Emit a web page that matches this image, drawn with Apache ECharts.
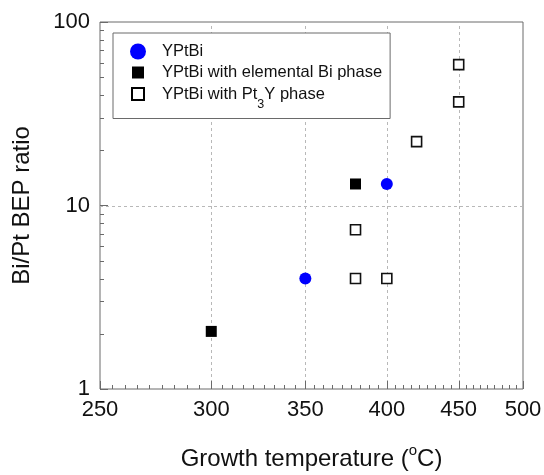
<!DOCTYPE html>
<html>
<head>
<meta charset="utf-8">
<title>Bi/Pt BEP ratio vs growth temperature</title>
<script src="https://cdn.jsdelivr.net/npm/echarts@6/dist/echarts.min.js"></script>
<style>
  html, body { margin: 0; padding: 0; background: #fff; }
  #chart { width: 544px; height: 475px; }
</style>
</head>
<body>
<div id="chart"></div>
<script>
// Growth temperature (°C) and Bi/Pt beam-equivalent-pressure ratio per phase
const seriesNames = ['YPtBi', 'YPtBi with elemental Bi phase', 'YPtBi with Pt3Y phase'];
const legendLabels = ['YPtBi', 'YPtBi with elemental Bi phase', 'YPtBi with Pt{sub|3}Y phase'];

const pureTemp = [350, 400];
const pureRatio = [4.0, 13.1];

const biPhaseTemp = [300, 380];
const biPhaseRatio = [2.06, 13.1];

const pt3yTemp = [380, 380, 400, 420, 450, 450];
const pt3yRatio = [7.38, 4.0, 4.0, 22.3, 36.7, 58.6];

// Axis ranges and ticks
const X_MIN = 250, X_MAX = 500;
const Y_MIN = 1, Y_MAX = 100;
const xTickValues = [250, 300, 350, 400, 450, 500];
const xTickLabels = ['250', '300', '350', '400', '450', '500'];
const xGridValues = [300, 350, 400, 450];
const yGridValues = [10];
const X_MINOR_PER_MAJOR = 8;
const yMinorTicks = [2, 3, 4, 5, 6, 7, 8, 9, 20, 30, 40, 50, 60, 70, 80, 90];

// x minor ticks sit evenly (on the log axis) between each pair of major ticks
const xMinorTicks = [];
for (let i = 0; i < xTickValues.length - 1; i++) {
  const a = xTickValues[i], b = xTickValues[i + 1];
  for (let k = 1; k <= X_MINOR_PER_MAJOR; k++) {
    xMinorTicks.push(a * Math.pow(b / a, k / (X_MINOR_PER_MAJOR + 1)));
  }
}

const zip = (xs, ys) => xs.map((x, i) => [x, ys[i]]);

const FONT = "'Liberation Sans', Arial, Helvetica, sans-serif";
const AXIS_COLOR = '#6a6a6a';
const GRID_COLOR = '#b8b8b8';
const TEXT_COLOR = '#111';

const crisp = v => Math.round(v) + 0.5;

function renderXMajor(params, api) {
  const p = api.coord([api.value(0), api.value(1)]);
  const x = crisp(p[0]);
  return {
    type: 'group',
    children: [
      { type: 'line', shape: { x1: x, y1: p[1], x2: x, y2: p[1] - 8 },
        style: { stroke: AXIS_COLOR, lineWidth: 1 } },
      { type: 'text', x: p[0], y: p[1] + 10,
        style: { text: xTickLabels[params.dataIndex], fontSize: 22, fontFamily: FONT,
                 fill: TEXT_COLOR, align: 'center', verticalAlign: 'top' } }
    ]
  };
}

function renderXMinor(params, api) {
  const p = api.coord([api.value(0), api.value(1)]);
  const x = crisp(p[0]);
  return { type: 'line', shape: { x1: x, y1: p[1], x2: x, y2: p[1] - 4 },
           style: { stroke: AXIS_COLOR, lineWidth: 1 } };
}

function renderYMinor(params, api) {
  const p = api.coord([api.value(0), api.value(1)]);
  const y = crisp(p[1]);
  return { type: 'line', shape: { x1: p[0], y1: y, x2: p[0] + 4, y2: y },
           style: { stroke: AXIS_COLOR, lineWidth: 1 } };
}

function renderXGrid(params, api) {
  const a = api.coord([api.value(0), Y_MIN]);
  const b = api.coord([api.value(0), Y_MAX]);
  const x = crisp(a[0]);
  return { type: 'line', shape: { x1: x, y1: a[1], x2: x, y2: b[1] },
           style: { stroke: GRID_COLOR, lineWidth: 1, lineDash: [3, 3] } };
}

function renderYGrid(params, api) {
  const a = api.coord([X_MIN, api.value(1)]);
  const b = api.coord([X_MAX, api.value(1)]);
  const y = crisp(a[1]);
  return { type: 'line', shape: { x1: a[0], y1: y, x2: b[0], y2: y },
           style: { stroke: GRID_COLOR, lineWidth: 1, lineDash: [3, 3] } };
}

const chart = echarts.init(document.getElementById('chart'), null, { renderer: 'canvas' });

chart.setOption({
  animation: false,
  backgroundColor: '#fff',
  textStyle: { fontFamily: FONT },
  grid: {
    left: 100, right: 21, top: 22, bottom: 86,
    show: true, borderColor: AXIS_COLOR, borderWidth: 1,
    backgroundColor: 'transparent',
    containLabel: false, outerBoundsMode: 'none'
  },
  legend: {
    orient: 'vertical',
    left: 113, top: 33,
    padding: [10, 8, 7, 16],
    itemWidth: 16, itemHeight: 16, itemGap: 4,
    borderColor: AXIS_COLOR, borderWidth: 1,
    backgroundColor: '#fff',
    selectedMode: false,
    textStyle: {
      fontSize: 16.5, fontFamily: FONT, color: TEXT_COLOR, lineHeight: 17,
      padding: [0, 0, 0, 11],
      rich: { sub: { fontSize: 12.5, fontFamily: FONT, color: TEXT_COLOR, lineHeight: 2,
                     verticalAlign: 'top', padding: [13, 0, 0, 0] } }
    },
    formatter: name => legendLabels[seriesNames.indexOf(name)],
    data: [
      { name: seriesNames[0], icon: 'circle', itemStyle: { color: '#0000ff', borderWidth: 0 } },
      { name: seriesNames[1], icon: 'path://M0,0M2,2H14V14H2ZM16,16',
        itemStyle: { color: '#000', borderWidth: 0 } },
      { name: seriesNames[2], icon: 'path://M0,0M2,2H14V14H2ZM16,16',
        itemStyle: { color: '#fff', borderColor: '#000', borderWidth: 2 } }
    ]
  },
  xAxis: {
    type: 'log', logBase: 10, min: X_MIN, max: X_MAX,
    name: 'Growth temperature ({sup|o}C)',
    nameLocation: 'middle', nameGap: 54,
    nameTextStyle: {
      fontSize: 24, fontFamily: FONT, color: TEXT_COLOR, lineHeight: 32,
      rich: { sup: { fontSize: 15, fontFamily: FONT, color: TEXT_COLOR, lineHeight: 2, verticalAlign: 'top' } }
    },
    axisLine: { show: false },
    axisTick: { show: false },
    axisLabel: { show: false },
    splitLine: { show: false },
    minorTick: { show: false },
    minorSplitLine: { show: false }
  },
  yAxis: {
    type: 'log', logBase: 10, min: Y_MIN, max: Y_MAX,
    name: 'Bi/Pt BEP ratio',
    nameLocation: 'middle', nameGap: 66,
    nameTextStyle: { fontSize: 24, fontFamily: FONT, color: TEXT_COLOR },
    axisLine: { show: false },
    axisTick: { show: true, inside: true, length: 8, lineStyle: { color: AXIS_COLOR, width: 1 } },
    axisLabel: { fontSize: 22, fontFamily: FONT, color: TEXT_COLOR, margin: 10, padding: [0, 0, 4, 0] },
    splitLine: { show: false },
    minorTick: { show: false },
    minorSplitLine: { show: false }
  },
  series: [
    { type: 'custom', name: 'xgrid', silent: true, clip: false, z: 1,
      data: xGridValues.map(v => [v, Y_MIN]), renderItem: renderXGrid },
    { type: 'custom', name: 'ygrid', silent: true, clip: false, z: 1,
      data: yGridValues.map(v => [X_MIN, v]), renderItem: renderYGrid },
    { type: 'custom', name: 'xmajor', silent: true, clip: false, z: 2,
      data: xTickValues.map(v => [v, Y_MIN]), renderItem: renderXMajor },
    { type: 'custom', name: 'xminor', silent: true, clip: false, z: 2,
      data: xMinorTicks.map(v => [v, Y_MIN]), renderItem: renderXMinor },
    { type: 'custom', name: 'yminor', silent: true, clip: false, z: 2,
      data: yMinorTicks.map(v => [X_MIN, v]), renderItem: renderYMinor },
    {
      type: 'scatter', name: seriesNames[0], z: 5,
      symbol: 'circle', symbolSize: 12,
      itemStyle: { color: '#0000ff', opacity: 1 },
      data: zip(pureTemp, pureRatio)
    },
    {
      type: 'scatter', name: seriesNames[1], z: 5,
      symbol: 'rect', symbolSize: 11,
      itemStyle: { color: '#000', opacity: 1 },
      data: zip(biPhaseTemp, biPhaseRatio)
    },
    {
      type: 'scatter', name: seriesNames[2], z: 5,
      symbol: 'rect', symbolSize: 10,
      itemStyle: { color: '#fff', borderColor: '#111', borderWidth: 1.6, opacity: 1 },
      data: zip(pt3yTemp, pt3yRatio)
    }
  ]
});
</script>
</body>
</html>
